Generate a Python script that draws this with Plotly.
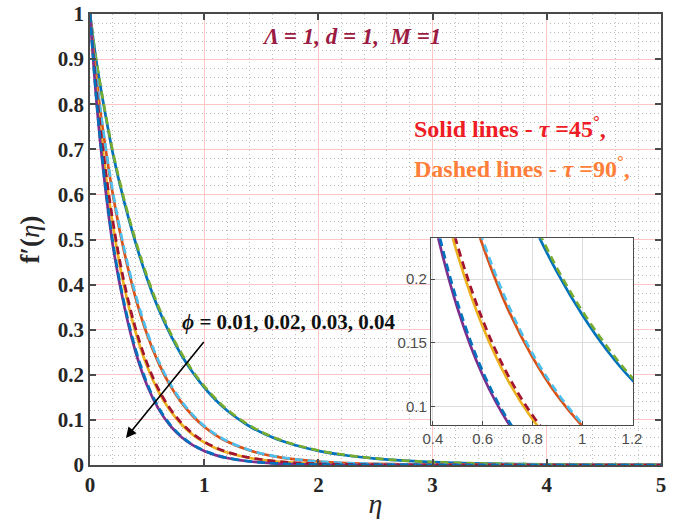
import plotly.graph_objects as go

# similarity variable
eta = [0, 0.05, 0.1, 0.2, 0.3, 0.4, 0.5, 0.6, 0.7, 0.8, 0.9, 1.0, 1.1, 1.2,
       1.4, 1.6, 1.8, 2.0, 2.25, 2.5, 2.75, 3.0, 3.5, 4.0, 4.5, 5.0]

# Solid lines (tau = 45 deg)
f_s_001 = [1, 0.905, 0.827, 0.691, 0.583, 0.492, 0.413, 0.346, 0.291, 0.244, 0.205, 0.172, 0.144, 0.121,
           0.0854, 0.0608, 0.0437, 0.0314, 0.021, 0.0141, 0.0095, 0.0064, 0.0029, 0.0013, 0.0006, 0.0003]
f_s_002 = [1, 0.874, 0.767, 0.600, 0.472, 0.370, 0.289, 0.2265, 0.177, 0.1388, 0.1086, 0.085, 0.0665, 0.052,
           0.032, 0.0198, 0.0123, 0.0077, 0.0043, 0.0024, 0.0014, 0.0008, 0.0003, 0.0001, 0.0, 0.0]
f_s_003 = [1, 0.848, 0.7225, 0.5326, 0.3946, 0.2938, 0.2187, 0.1628, 0.1212, 0.0903, 0.0672, 0.050, 0.0373, 0.0277,
           0.0155, 0.0087, 0.0048, 0.0027, 0.0013, 0.0007, 0.0003, 0.0002, 0.0001, 0, 0, 0]
f_s_004 = [1, 0.827, 0.691, 0.487, 0.352, 0.250, 0.1765, 0.1246, 0.088, 0.0621, 0.0439, 0.031, 0.0219, 0.0154,
           0.0077, 0.0038, 0.0019, 0.001, 0.0004, 0.0002, 0.0001, 0, 0, 0, 0, 0]

# Dashed lines (tau = 90 deg)
f_d_001 = [1, 0.906, 0.829, 0.695, 0.588, 0.497, 0.418, 0.351, 0.295, 0.248, 0.208, 0.175, 0.147, 0.123,
           0.0872, 0.0622, 0.0448, 0.0322, 0.0216, 0.0145, 0.0098, 0.0066, 0.003, 0.0014, 0.0006, 0.0003]
f_d_002 = [1, 0.876, 0.771, 0.606, 0.479, 0.377, 0.295, 0.231, 0.181, 0.1417, 0.111, 0.0868, 0.068, 0.0532,
           0.0328, 0.0203, 0.0126, 0.0079, 0.0044, 0.0025, 0.0014, 0.0008, 0.0003, 0.0001, 0.0, 0.0]
f_d_003 = [1, 0.851, 0.728, 0.541, 0.404, 0.302, 0.2255, 0.168, 0.1253, 0.0934, 0.0696, 0.0519, 0.0387, 0.0288,
           0.0162, 0.0091, 0.005, 0.0028, 0.0014, 0.0007, 0.0003, 0.0002, 0.0001, 0, 0, 0]
f_d_004 = [1, 0.831, 0.697, 0.494, 0.358, 0.256, 0.181, 0.1277, 0.0902, 0.0636, 0.045, 0.0318, 0.0224, 0.0158,
           0.0079, 0.0039, 0.0019, 0.001, 0.0004, 0.0002, 0.0001, 0, 0, 0, 0, 0]

solid = [(f_s_001, '#0072BD'), (f_s_002, '#D95319'), (f_s_003, '#EDB120'), (f_s_004, '#7E2F8E')]
dashed = [(f_d_001, '#77AC30'), (f_d_002, '#4DBEEE'), (f_d_003, '#A2142F'), (f_d_004, '#0072BD')]

x_range = [0, 5]
y_range = [0, 1]
x_ticks = [0, 1, 2, 3, 4, 5]
y_ticks = [0, 0.1, 0.2, 0.3, 0.4, 0.5, 0.6, 0.7, 0.8, 0.9, 1]
inset_x_ticks = [0.4, 0.6, 0.8, 1.0, 1.2]
inset_y_ticks = [0.1, 0.15, 0.2]

inset_dom_x = [0.597, 0.951]
inset_dom_y = [0.0887, 0.503]

fig = go.Figure()

# white backing under the inset (hides main-axes grid there), expressed from the inset domain
bx0 = x_range[0] + inset_dom_x[0] * (x_range[1] - x_range[0])
bx1 = x_range[0] + inset_dom_x[1] * (x_range[1] - x_range[0])
by0 = y_range[0] + inset_dom_y[0] * (y_range[1] - y_range[0])
by1 = y_range[0] + inset_dom_y[1] * (y_range[1] - y_range[0])
fig.add_trace(go.Scatter(x=[bx0, bx1, bx1, bx0, bx0], y=[by0, by0, by1, by1, by0], mode='lines',
                         fill='toself', fillcolor='white', line=dict(width=0, color='white'),
                         hoverinfo='skip'))

for axes in [('x', 'y'), ('x2', 'y2')]:
    for ys, c in solid:
        fig.add_trace(go.Scatter(x=eta, y=ys, mode='lines', xaxis=axes[0], yaxis=axes[1],
                                 line=dict(color=c, width=2.7, shape='spline', smoothing=1.0)))
    for ys, c in dashed:
        fig.add_trace(go.Scatter(x=eta, y=ys, mode='lines', xaxis=axes[0], yaxis=axes[1],
                                 line=dict(color=c, width=2.7, dash='8px,5px', shape='spline', smoothing=1.0)))

axcol = '#4a4a4a'
tickfont_main = dict(family='Liberation Serif', size=21, color='#262626', weight='bold')
minor_grid = dict(showgrid=True, gridcolor='#BDBDBD', griddash='1px,3px', gridwidth=1)

fig.update_layout(
    width=678, height=519,
    margin=dict(l=90, r=17, t=14, b=54, autoexpand=False),
    paper_bgcolor='white', plot_bgcolor='white',
    showlegend=False,
    xaxis=dict(range=x_range, tickvals=x_ticks, showline=True, linecolor=axcol, linewidth=1.5,
               mirror='ticks', ticks='inside', ticklen=6, tickcolor=axcol, tickwidth=1.5,
               showgrid=True, gridcolor='#FFC6C6', gridwidth=1, zeroline=False, automargin=False,
               minor=dict(dtick=0.2, tick0=0, **minor_grid),
               tickfont=tickfont_main,
               title=dict(text='<i>η</i>', font=dict(family='Liberation Serif', size=28, color='#262626'),
                          standoff=0)),
    yaxis=dict(range=y_range, tickvals=y_ticks, showline=True, linecolor=axcol, linewidth=1.5,
               mirror='ticks', ticks='inside', ticklen=6, tickcolor=axcol, tickwidth=1.5,
               showgrid=True, gridcolor='#FFC6C6', gridwidth=1, zeroline=False, automargin=False,
               minor=dict(dtick=0.02, tick0=0, **minor_grid),
               tickfont=tickfont_main,
               title=dict(text='<b>f′(</b><i>η</i><b>)</b>',
                          font=dict(family='Liberation Serif', size=27, color='#262626'), standoff=10)),
    xaxis2=dict(domain=inset_dom_x, anchor='y2', range=[0.392, 1.204], tickvals=inset_x_ticks,
                showline=True, mirror=True, linecolor=axcol, linewidth=1.2, automargin=False,
                ticks='inside', ticklen=4, tickcolor=axcol,
                showgrid=True, gridcolor='#DCDCDC', gridwidth=1, zeroline=False,
                tickfont=dict(family='Liberation Sans', size=15, color='#4d4d4d')),
    yaxis2=dict(domain=inset_dom_y, anchor='x2', range=[0.0857, 0.232], tickvals=inset_y_ticks,
                showline=True, mirror=True, linecolor=axcol, linewidth=1.2, automargin=False,
                ticks='inside', ticklen=4, tickcolor=axcol,
                showgrid=True, gridcolor='#DCDCDC', gridwidth=1, zeroline=False,
                tickfont=dict(family='Liberation Sans', size=15, color='#4d4d4d')),
)

fig.add_annotation(x=2.29, y=0.951, xref='x', yref='y', showarrow=False,
                   text='<i>Λ = 1, d = 1,&nbsp; M =1</i>',
                   font=dict(family='Liberation Serif', size=23, color='#9B1B42', weight='bold'))
fig.add_annotation(x=2.82, y=0.749, xref='x', yref='y', showarrow=False, xanchor='left',
                   text='Solid lines - <i>τ</i> =45<sup>°</sup>,',
                   font=dict(family='Liberation Serif', size=24, color='#EE1C25', weight='bold'))
fig.add_annotation(x=2.82, y=0.66, xref='x', yref='y', showarrow=False, xanchor='left',
                   text='Dashed lines - <i>τ</i> =90<sup>°</sup>,',
                   font=dict(family='Liberation Serif', size=24, color='#FF7F3A', weight='bold'))
fig.add_annotation(x=0.79, y=0.318, xref='x', yref='y', showarrow=False, xanchor='left',
                   text='<i>ϕ</i> = 0.01, 0.02, 0.03, 0.04',
                   font=dict(family='Liberation Serif', size=21, color='#111111', weight='bold'))
fig.add_annotation(x=0.315, y=0.06, ax=1.007, ay=0.276, xref='x', yref='y', axref='x', ayref='y',
                   showarrow=True, arrowhead=2, arrowsize=1.3, arrowwidth=1.6, arrowcolor='black', text='')

fig.write_html('out.html')
